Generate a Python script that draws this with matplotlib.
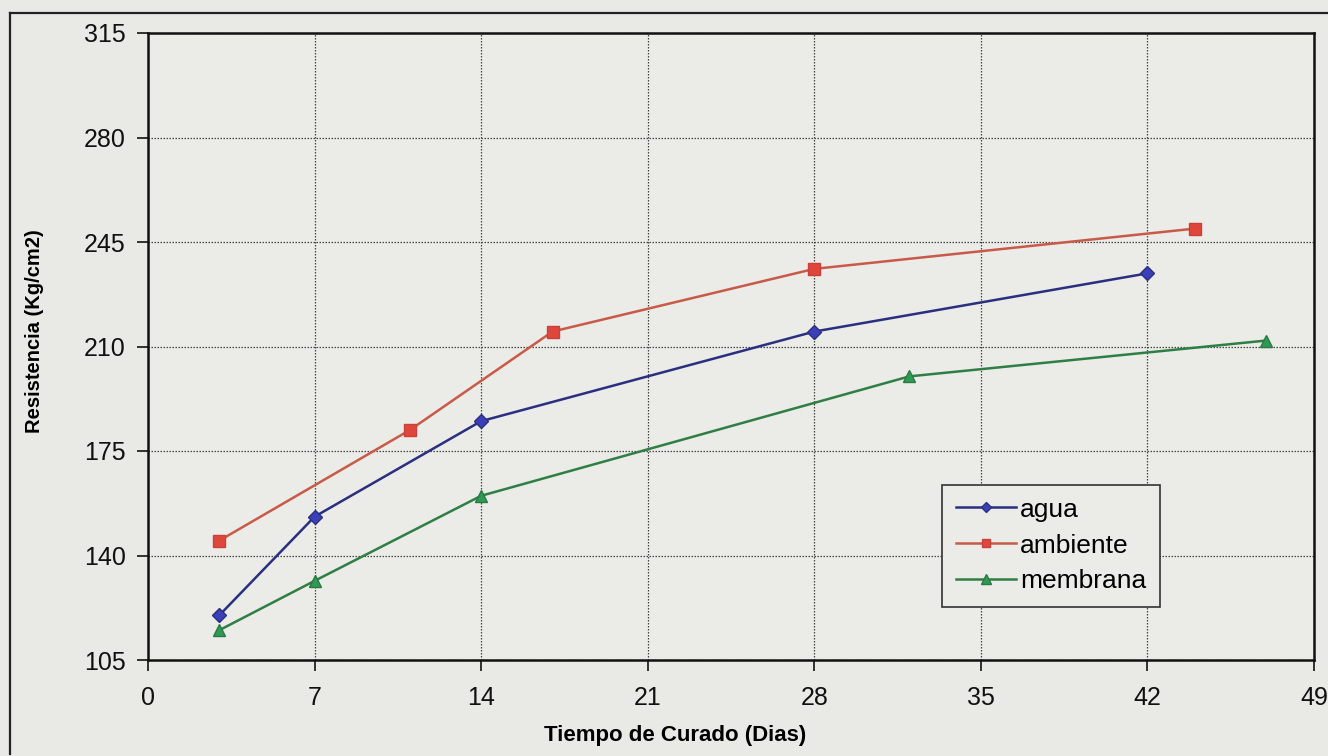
import matplotlib
matplotlib.use('Agg')
from matplotlib import pyplot as plt
from matplotlib.lines import Line2D

plt.rcParams['font.family'] = ['Liberation Sans', 'DejaVu Sans']

dias_agua = [3, 7, 14, 28, 42]
agua = [120, 153, 185, 215, 234.5]

dias_ambiente = [3, 11, 17, 28, 44]
ambiente = [145, 182, 215, 236, 249.5]

dias_membrana = [3, 7, 14, 32, 47]
membrana = [115, 131.5, 160, 200, 212]

x_ticks = [0, 7, 14, 21, 28, 35, 42, 49]
y_ticks = [105, 140, 175, 210, 245, 280, 315]

bg = '#e9e9e5'
fig = plt.figure(figsize=(13.28, 7.56), dpi=100, facecolor=bg)
ax = fig.add_axes([148 / 1328, 96 / 756, (1314 - 148) / 1328, (661 - 34) / 756])
ax.set_facecolor('#ebebe8')

# outer frame of the chart object
fig.add_artist(Line2D([10 / 1328, 10 / 1328], [2 / 756, 743 / 756], transform=fig.transFigure, color='#222222', lw=1.6))
fig.add_artist(Line2D([10 / 1328, 1.0], [743 / 756, 743 / 756], transform=fig.transFigure, color='#222222', lw=1.6))

ax.plot(dias_agua, agua, color='#2b2f80', lw=1.8, marker='D', markersize=7,
        markerfacecolor='#3c40b8', markeredgecolor='#2b2f80', label='agua')
ax.plot(dias_ambiente, ambiente, color='#c85a48', lw=1.8, marker='s', markersize=8,
        markerfacecolor='#e0473c', markeredgecolor='#c84038', label='ambiente')
ax.plot(dias_membrana, membrana, color='#2f7f45', lw=1.8, marker='^', markersize=9,
        markerfacecolor='#2f9a55', markeredgecolor='#2a7a40', label='membrana')

ax.set_xlim(0, 49)
ax.set_ylim(105, 315)
ax.set_xticks(x_ticks)
ax.set_yticks(y_ticks)
ax.grid(True, color='#444444', linestyle=(0, (1.2, 1.2)), lw=0.9)
ax.tick_params(axis='both', labelsize=18, direction='out', length=8, width=1.2, colors='#111111')
ax.tick_params(axis='x', pad=11)
ax.tick_params(axis='y', pad=8)
for s in ax.spines.values():
    s.set_color('#111111')
    s.set_linewidth(1.8)

ax.set_xlabel('Tiempo de Curado (Dias)', fontsize=16, fontweight='bold')
ax.xaxis.set_label_coords(0.452, -0.104)
ax.set_ylabel('Resistencia (Kg/cm2)', fontsize=14.5, fontweight='bold')
ax.yaxis.set_label_coords(-0.089, 0.525)

leg = ax.legend(loc='lower left', bbox_to_anchor=(0.67, 0.064), fontsize=19,
                frameon=True, fancybox=False, framealpha=1, edgecolor='#333333',
                facecolor='#ebebe8', handlelength=2.3, handletextpad=0.15,
                labelspacing=0.45, borderpad=0.5, markerscale=0.8)
leg.get_frame().set_linewidth(1.2)

fig.savefig('out.png', dpi=100, facecolor=bg)
